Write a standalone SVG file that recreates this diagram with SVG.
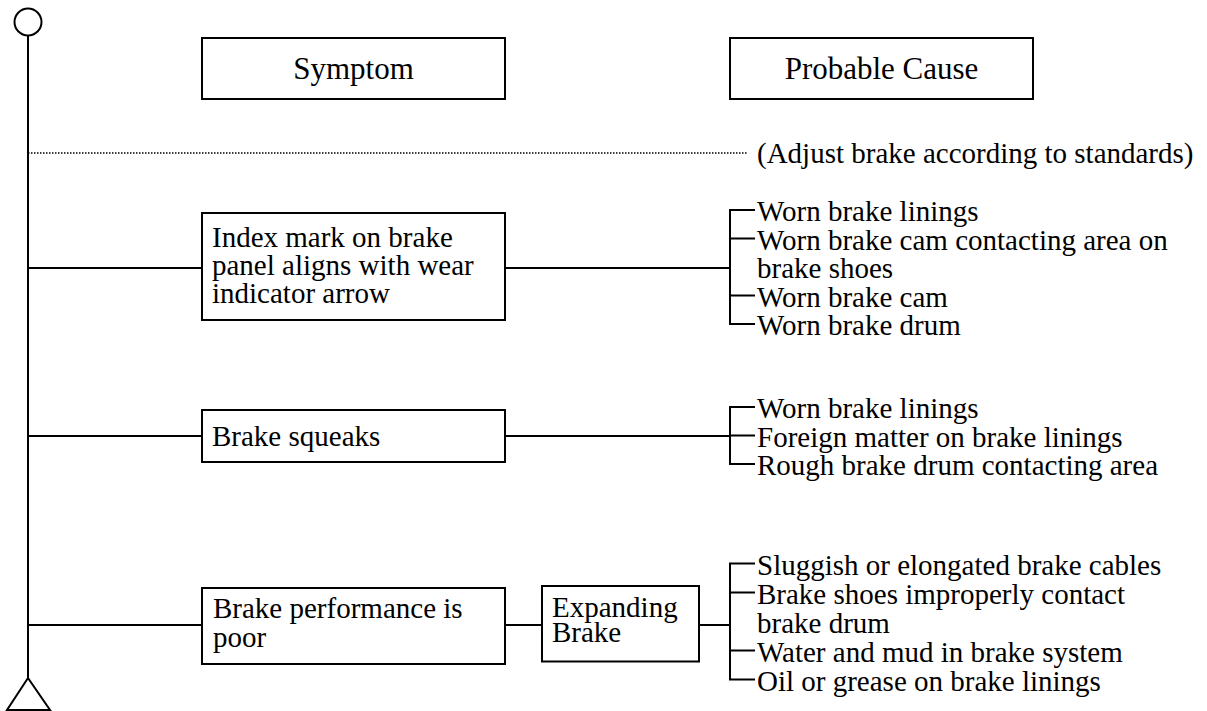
<svg xmlns="http://www.w3.org/2000/svg" width="1207" height="711" viewBox="0 0 1207 711">
<style>
.box{fill:#fff;stroke:#000;stroke-width:2}
.ln{fill:none;stroke:#000;stroke-width:2}
.dot{fill:none;stroke:#000;stroke-width:1.5;stroke-dasharray:1.5 1.5}
text{font-family:"Liberation Serif","Times New Roman",serif;font-size:29px;fill:#000}
.hd{font-size:31px;text-anchor:middle}
</style>
<rect width="1207" height="711" fill="#fff"/>
<g id="start"><circle cx="28" cy="22" r="13.5" class="ln"/></g>
<g id="end"><polygon points="28,678 7,710 50,710" class="ln"/></g>
<g id="connectors">
<line x1="28" y1="35.5" x2="28" y2="678" class="ln"/>
<line x1="28" y1="153" x2="748" y2="153" class="dot"/>
<line x1="28" y1="268" x2="202" y2="268" class="ln"/>
<line x1="505" y1="268" x2="730" y2="268" class="ln"/>
<path d="M755,210 H730 V324 H755 M730,238.5 H755 M730,295.5 H755" class="ln"/>
<line x1="28" y1="436" x2="202" y2="436" class="ln"/>
<line x1="505" y1="436" x2="730" y2="436" class="ln"/>
<path d="M755,407 H730 V464 H755 M730,435.5 H755" class="ln"/>
<line x1="28" y1="625" x2="202" y2="625" class="ln"/>
<line x1="505" y1="625" x2="542" y2="625" class="ln"/>
<line x1="699" y1="625" x2="730" y2="625" class="ln"/>
<path d="M755,563.5 H730 V679.5 H755 M730,592.5 H755 M730,650.5 H755" class="ln"/>
</g>
<g id="hdr-symptom"><rect x="202" y="38" width="303" height="61" class="box"/><text x="353.5" y="79" class="hd">Symptom</text></g>
<g id="hdr-cause"><rect x="730" y="38" width="303" height="61" class="box"/><text x="881.5" y="79" class="hd">Probable Cause</text></g>
<g id="note"><text x="757" y="163">(Adjust brake according to standards)</text></g>
<g id="s1"><rect x="202" y="213" width="303" height="107" class="box"/>
<text x="212" y="247">Index mark on brake</text>
<text x="212" y="275">panel aligns with wear</text>
<text x="212" y="303">indicator arrow</text></g>
<g id="c1">
<text x="757" y="221">Worn brake linings</text>
<text x="757" y="249.5">Worn brake cam contacting area on</text>
<text x="757" y="278">brake shoes</text>
<text x="757" y="306.5">Worn brake cam</text>
<text x="757" y="335">Worn brake drum</text></g>
<g id="s2"><rect x="202" y="410" width="303" height="52" class="box"/>
<text x="212" y="446">Brake squeaks</text></g>
<g id="c2">
<text x="757" y="418">Worn brake linings</text>
<text x="757" y="446.5">Foreign matter on brake linings</text>
<text x="757" y="475">Rough brake drum contacting area</text></g>
<g id="s3"><rect x="202" y="588" width="303" height="76" class="box"/>
<text x="213" y="618">Brake performance is</text>
<text x="213" y="647">poor</text></g>
<g id="s3b"><rect x="542" y="586" width="157" height="75.5" class="box"/>
<text x="552" y="617">Expanding</text>
<text x="552" y="642">Brake</text></g>
<g id="c3">
<text x="757" y="574.5">Sluggish or elongated brake cables</text>
<text x="757" y="603.5">Brake shoes improperly contact</text>
<text x="757" y="632.5">brake drum</text>
<text x="757" y="661.5">Water and mud in brake system</text>
<text x="757" y="690.5">Oil or grease on brake linings</text></g>
</svg>
